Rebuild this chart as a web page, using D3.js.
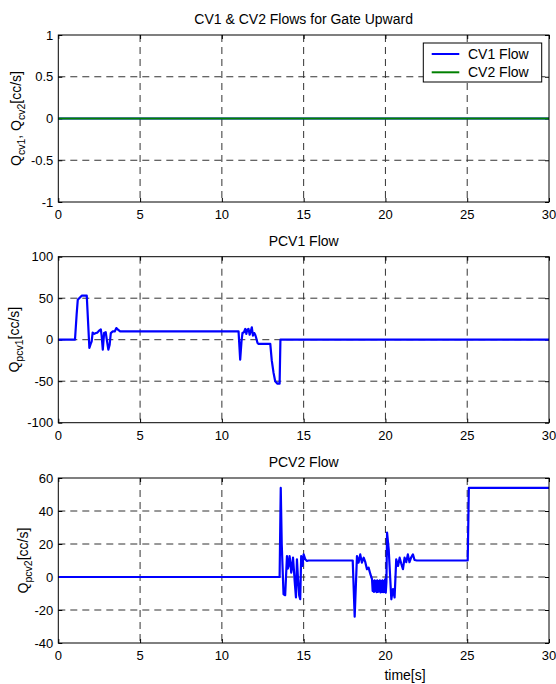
<!DOCTYPE html>
<html>
<head>
<meta charset="utf-8">
<script src="https://cdn.jsdelivr.net/npm/d3@7"></script>
<style>
  html, body { margin: 0; padding: 0; background: #fff; }
  svg { display: block; font-family: "Liberation Sans", Arial, sans-serif; }
</style>
</head>
<body>
<svg id="chart" width="556" height="684"></svg>
<script>
// ---------- data ----------
const xTicks = [0, 5, 10, 15, 20, 25, 30];

const cvTime = [0, 30];
const cv1Flow = [0, 0];
const cv2Flow = [0, 0];
const cvYTicks = [1, 0.5, 0, -0.5, -1];

const pcv1Time = [0, 1.02, 1.12, 1.19, 1.43, 1.74, 1.90, 2.0, 2.04, 2.1, 2.2, 2.3, 2.39, 2.5, 2.6, 2.65, 2.72, 2.8, 2.9, 2.98, 3.06, 3.14, 3.21, 3.33, 3.45, 3.55, 3.65, 3.78,
  11.02, 11.12, 11.2, 11.26, 11.35, 11.43, 11.5, 11.55, 11.63, 11.7, 11.75, 11.83, 11.9, 11.98, 12.04, 12.1, 12.18, 12.24, 12.96, 13.05, 13.16, 13.26, 13.4, 13.53, 13.58, 30];
const pcv1Flow = [0, 0, 30, 48, 53, 53, -10, -4, -2, 8.5, 7, 8, 8.5, 11, 12.5, 5, -12, 8, 9, -2, -12, -6, 8, 10, 10, 14, 12, 10,
  10, -24, -2, 8, 9, 13, 7, 12, 13, 6, 9, 15, 5, 8, 6, 2, -4, -5, -5, -25, -40, -50, -53, -53, 0, 0];
const pcv1YTicks = [100, 50, 0, -50, -100];

const pcv2Time = [0, 13.53, 13.6, 13.66, 13.77, 13.87, 13.98, 14.03, 14.08, 14.14, 14.2, 14.24, 14.3, 14.35, 14.4, 14.45, 14.53, 14.59, 14.65, 14.73, 14.79, 14.85, 14.93, 15.0, 15.1, 15.2, 15.3,
  18.0, 18.12, 18.26, 18.36, 18.46, 18.56, 18.67, 18.77, 18.87, 18.97, 19.08, 19.18,
  19.22, 19.26, 19.30, 19.34, 19.38, 19.42, 19.46, 19.50, 19.54, 19.58, 19.62, 19.66, 19.70, 19.74, 19.78, 19.82, 19.86, 19.90, 19.94, 19.98, 20.02, 20.06,
  20.1, 20.2, 20.36, 20.46, 20.56, 20.66, 20.77, 20.87, 20.97, 21.07, 21.17, 21.27, 21.37, 21.47, 21.58, 21.68, 21.78, 21.92, 25.03, 25.1, 30];
const pcv2Flow = [0, 0, 54, 20, -10.5, -11, 12.7, 5, 6.7, 12.7, 8, 2.7, 6, 11.7, 5, -2.4, -12.4, 10.7, 0, -11.4, -13.4, 12.7, 6.7, 13.7, 10.7, 9.7, 10,
  10, -24, 12.7, 8.7, 13.7, 8.7, 11.7, 9, 4.7, 5.7, 1.7, -1.3,
  -8.5, -2.5, -9, -2, -8.5, -2.5, -9.2, -2, -9, -2.5, -8.8, -2, -9.3, -2.5, -9, -2, -9.2, -2.5, -9, -1.5, -9.5, -3,
  26.9, 16.8, -13.5, -7.4, -12.4, 10.7, 6.7, 11.7, 8, 4.7, 11.7, 9, 13.7, 9, 12, 13.7, 10.3, 10, 10, 54, 54];
const pcv2YTicks = [60, 40, 20, 0, -20, -40];

const legendNames = ["CV1 Flow", "CV2 Flow"];
const seriesColors = ["#0000ff", "#008000"];

// ---------- layout ----------
const svg = d3.select("#chart");
const left = 58.3, right = 549;
const x = d3.scaleLinear().domain([0, 30]).range([left, right]);
const FONT = 13;
const TFONT = 14;

function panel(cfg) {
  const y = d3.scaleLinear().domain(cfg.domain).range([cfg.bottom, cfg.top]);
  const g = svg.append("g");

  // grid
  const gridColor = "#333";
  g.selectAll(".vg").data(xTicks.filter(t => t > 0 && t < 30)).enter().append("line")
    .attr("x1", d => x(d)).attr("x2", d => x(d))
    .attr("y1", cfg.top).attr("y2", cfg.bottom)
    .attr("stroke", gridColor).attr("stroke-width", 1).attr("stroke-dasharray", "7,5");
  g.selectAll(".hg").data(cfg.yTicks.filter(t => t > cfg.domain[0] && t < cfg.domain[1])).enter().append("line")
    .attr("x1", left).attr("x2", right)
    .attr("y1", d => y(d)).attr("y2", d => y(d))
    .attr("stroke", gridColor).attr("stroke-width", 1).attr("stroke-dasharray", "7,5");

  // axes (inward ticks)
  const axB = d3.axisBottom(x).tickValues(xTicks).tickSizeInner(-4).tickSizeOuter(0).tickFormat("");
  const axT = d3.axisTop(x).tickValues(xTicks).tickSizeInner(-4).tickSizeOuter(0).tickFormat("");
  const axL = d3.axisLeft(y).tickValues(cfg.yTicks).tickSizeInner(-4).tickSizeOuter(0).tickFormat("");
  const axR = d3.axisRight(y).tickValues(cfg.yTicks).tickSizeInner(-4).tickSizeOuter(0).tickFormat("");
  [[axB, `translate(0,${cfg.bottom})`], [axT, `translate(0,${cfg.top})`],
   [axL, `translate(${left},0)`], [axR, `translate(${right},0)`]].forEach(([ax, tr]) => {
    const a = g.append("g").attr("transform", tr).call(ax);
    a.select(".domain").remove();
    a.selectAll("line").attr("stroke", "#000");
  });

  // data lines
  cfg.series.forEach(s => {
    const pts = s.t.map((t, i) => [t, s.v[i]]);
    g.append("path").datum(pts)
      .attr("fill", "none").attr("stroke", s.color).attr("stroke-width", 2.2)
      .attr("stroke-linejoin", "round")
      .attr("d", d3.line().x(d => x(d[0])).y(d => y(d[1])));
  });

  // box
  g.append("rect").attr("x", left).attr("y", cfg.top)
    .attr("width", right - left).attr("height", cfg.bottom - cfg.top)
    .attr("fill", "none").attr("stroke", "#000").attr("stroke-width", 1);

  // tick labels
  g.selectAll(".xl").data(xTicks).enter().append("text")
    .attr("x", d => x(d)).attr("y", cfg.bottom + 17)
    .attr("text-anchor", "middle").attr("font-size", FONT).text(d => d);
  g.selectAll(".yl").data(cfg.yTicks).enter().append("text")
    .attr("x", left - 5).attr("y", d => y(d) + 4.5)
    .attr("text-anchor", "end").attr("font-size", FONT).text(d => d);

  // title
  g.append("text").attr("x", (left + right) / 2).attr("y", cfg.top - 11)
    .attr("text-anchor", "middle").attr("font-size", TFONT).text(cfg.title);

  // y label
  const yl = g.append("text")
    .attr("transform", `translate(${cfg.ylabelX},${(cfg.top + cfg.bottom) / 2}) rotate(-90)`)
    .attr("text-anchor", "middle").attr("font-size", TFONT);
  cfg.ylabel.forEach(part => {
    const ts = yl.append("tspan").text(part.s);
    if (part.sub) ts.attr("font-size", 10.5).attr("dy", 4);
    else if (part.up) ts.attr("dy", -4);
  });
  return y;
}

panel({
  top: 35, bottom: 202, domain: [-1, 1], yTicks: cvYTicks,
  title: "CV1 & CV2 Flows for Gate Upward", ylabelX: 21,
  ylabel: [{s: "Q"}, {s: "cv1", sub: true}, {s: ", Q", up: true}, {s: "cv2", sub: true}, {s: "[cc/s]", up: true}],
  series: [
    {t: cvTime, v: cv1Flow, color: seriesColors[0]},
    {t: cvTime, v: cv2Flow, color: seriesColors[1]}
  ]
});
panel({
  top: 256.7, bottom: 422.7, domain: [-100, 100], yTicks: pcv1YTicks,
  title: "PCV1 Flow", ylabelX: 18.5,
  ylabel: [{s: "Q"}, {s: "pcv1", sub: true}, {s: "[cc/s]", up: true}],
  series: [{t: pcv1Time, v: pcv1Flow, color: seriesColors[0]}]
});
panel({
  top: 478, bottom: 643, domain: [-40, 60], yTicks: pcv2YTicks,
  title: "PCV2 Flow", ylabelX: 27.5,
  ylabel: [{s: "Q"}, {s: "pcv2", sub: true}, {s: "[cc/s]", up: true}],
  series: [{t: pcv2Time, v: pcv2Flow, color: seriesColors[0]}]
});

// x label
svg.append("text").attr("x", 405).attr("y", 680)
  .attr("text-anchor", "middle").attr("font-size", TFONT).text("time[s]");

// legend
const lg = svg.append("g");
lg.append("rect").attr("x", 423.3).attr("y", 43).attr("width", 118.4).attr("height", 39)
  .attr("fill", "#fff").attr("stroke", "#000").attr("stroke-width", 1);
legendNames.forEach((name, i) => {
  const yy = 54 + i * 18.3;
  lg.append("line").attr("x1", 431.7).attr("x2", 459.3).attr("y1", yy).attr("y2", yy)
    .attr("stroke", seriesColors[i]).attr("stroke-width", 2);
  lg.append("text").attr("x", 468).attr("y", yy + 5).attr("font-size", TFONT).text(name);
});
</script>
</body>
</html>
